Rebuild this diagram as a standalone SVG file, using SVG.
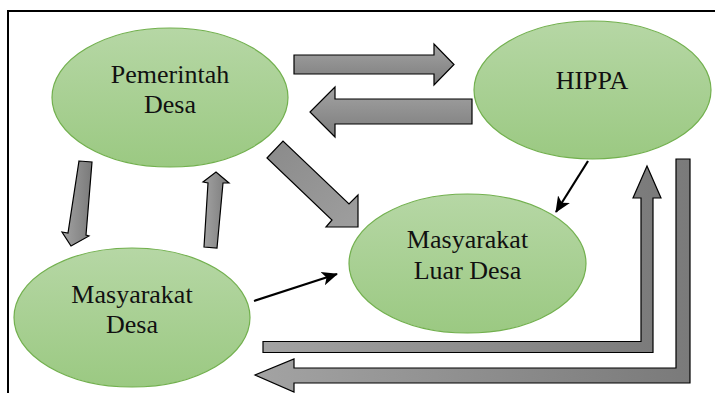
<svg xmlns="http://www.w3.org/2000/svg" width="715" height="393" viewBox="0 0 715 393">
  <defs>
    <linearGradient id="gEll" x1="0" y1="0" x2="0" y2="1">
      <stop offset="0" stop-color="#b6d7a5"/>
      <stop offset="1" stop-color="#9bc982"/>
    </linearGradient>
    <linearGradient id="gArrV" x1="0" y1="0" x2="0" y2="1">
      <stop offset="0" stop-color="#a3a3a3"/>
      <stop offset="1" stop-color="#7c7c7c"/>
    </linearGradient>
    <linearGradient id="gArrH" x1="0" y1="0" x2="1" y2="0">
      <stop offset="0" stop-color="#a3a3a3"/>
      <stop offset="1" stop-color="#7a7a7a"/>
    </linearGradient>
    <linearGradient id="gArrD" x1="0" y1="0" x2="1" y2="1">
      <stop offset="0" stop-color="#8a8a8a"/>
      <stop offset="1" stop-color="#9e9e9e"/>
    </linearGradient>
    <marker id="ah2" markerWidth="16" markerHeight="16" refX="15" refY="8" orient="auto" markerUnits="userSpaceOnUse" viewBox="0 0 16 16">
      <path d="M0,1 L16,8 L0,15 L4,8 Z" fill="#000"/>
    </marker>
  </defs>
  <style>
    .ell { fill: url(#gEll); stroke: #72b04e; stroke-width: 1.2; }
    .lbl { font-family: 'Liberation Serif', 'DejaVu Serif', serif; font-size: 26px; fill: #111; text-anchor: middle; }
    .blk { stroke: #000; stroke-width: 1.2; stroke-linejoin: miter; }
    .thin { stroke: #000; stroke-width: 2.2; fill: none; }
  </style>

  <rect width="715" height="393" fill="#fff"/>
  <!-- frame -->
  <path d="M8,393 L8,11 L715,11" fill="none" stroke="#000" stroke-width="2"/>

  <g id="connectors">
    <polygon class="blk" fill="url(#gArrV)" points="294,55 434,55 434,44 454,64.5 434,85 434,74 294,74"/>
    <polygon class="blk" fill="url(#gArrV)" points="472,99 472,124 335,124 335,137 310,112 335,87 335,99"/>
    <polygon class="blk" fill="url(#gArrD)" points="267,158 283,141 349,204 358,195 358,227 326,227 332,220"/>
    <polygon class="blk" fill="url(#gArrH)" points="79,161 92,162 86,235 89,236 71,246 62,232 68,233"/>
    <polygon class="blk" fill="url(#gArrH)" points="204,247 208,183 203,182 216,172 229,183 223,183 217,248"/>
    <line class="thin" x1="254" y1="301" x2="337" y2="274" marker-end="url(#ah2)"/>
    <line class="thin" x1="588" y1="161" x2="556" y2="212" marker-end="url(#ah2)"/>
    <polygon class="blk" fill="url(#gArrH)" points="263,341.5 641,341.5 641,198 633,198 647,166 661,198 653,198 653,352.5 263,352.5"/>
    <polygon class="blk" fill="url(#gArrH)" points="676,159 690,159 690,383 294,383 294,392 255,375 294,359 294,368 676,368"/>
  </g>

  <g id="pemerintah-desa">
    <ellipse class="ell" cx="170" cy="97.5" rx="118" ry="69.5"/>
    <text class="lbl" font-family="Liberation Serif, serif" x="170" y="83">Pemerintah</text>
    <text class="lbl" font-family="Liberation Serif, serif" x="170" y="113">Desa</text>
  </g>
  <g id="hippa">
    <ellipse class="ell" cx="592.5" cy="90" rx="118.5" ry="69"/>
    <text class="lbl" font-family="Liberation Serif, serif" x="592" y="89">HIPPA</text>
  </g>
  <g id="masyarakat-desa">
    <ellipse class="ell" cx="132" cy="317.5" rx="118" ry="69.5"/>
    <text class="lbl" font-family="Liberation Serif, serif" x="132" y="303">Masyarakat</text>
    <text class="lbl" font-family="Liberation Serif, serif" x="132" y="333">Desa</text>
  </g>
  <g id="masyarakat-luar-desa">
    <ellipse class="ell" cx="467.5" cy="263.5" rx="118.5" ry="69.5"/>
    <text class="lbl" font-family="Liberation Serif, serif" x="467.5" y="248">Masyarakat</text>
    <text class="lbl" font-family="Liberation Serif, serif" x="467.5" y="279">Luar Desa</text>
  </g>
</svg>
